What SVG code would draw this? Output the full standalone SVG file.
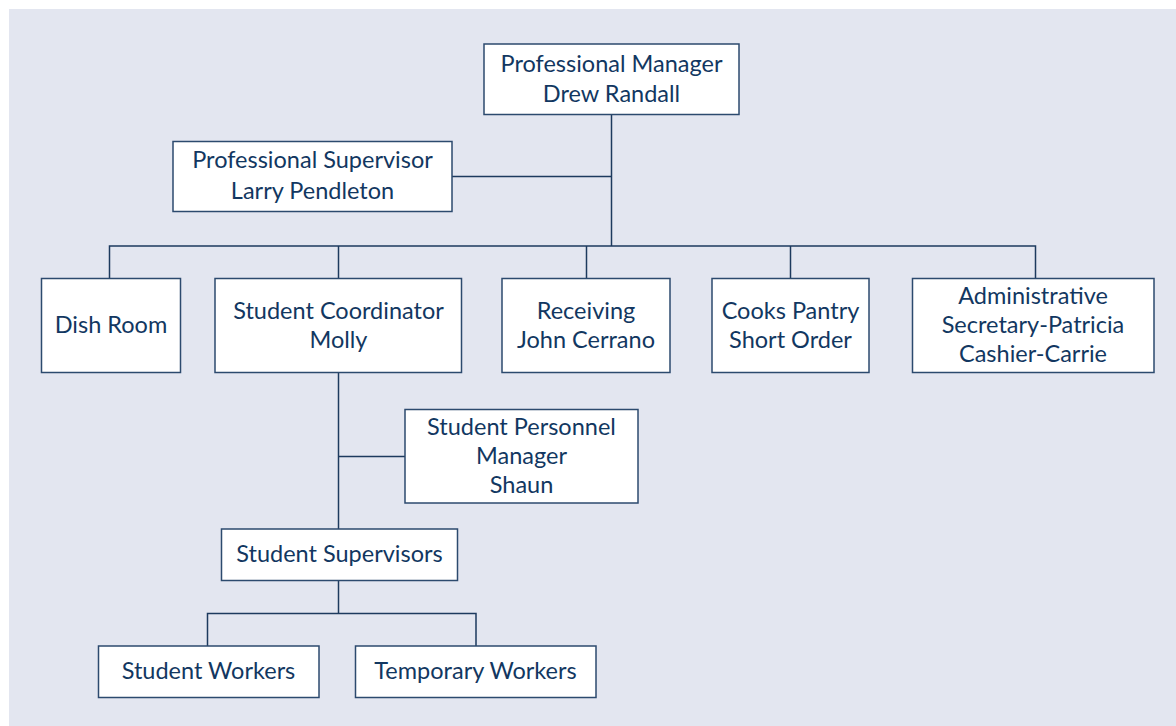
<svg xmlns="http://www.w3.org/2000/svg" width="1176" height="726" viewBox="0 0 1176 726">
<style>
.box{fill:#ffffff;stroke:#2c4a6e;stroke-width:1.5}
.t{font-family:Lato,"Open Sans",sans-serif;font-size:23.5px;fill:#123761;text-anchor:middle}
.c{stroke:#1d3a5e;stroke-width:1.5;fill:none}
</style>
<rect width="1176" height="726" fill="#ffffff"/>
<rect x="9" y="9" width="1167" height="717" fill="#e3e6f0"/>
<g id="connectors">
<path class="c" d="M611.5 114.5V246"/>
<path class="c" d="M452 176.5H611.5"/>
<path class="c" d="M109.5 278.5V246H1035.5V278.5"/>
<path class="c" d="M338.5 246V278.5"/>
<path class="c" d="M586.5 246V278.5"/>
<path class="c" d="M790.5 246V278.5"/>
<path class="c" d="M338.5 372.5V529"/>
<path class="c" d="M338.5 456.5H405"/>
<path class="c" d="M338.5 580.5V613.5"/>
<path class="c" d="M207.5 646V613.5H476V646"/>
</g>
<g id="n-manager"><rect class="box" x="484" y="44" width="255" height="70.5"/><text class="t" x="611.5" y="72">Professional Manager</text><text class="t" x="611.5" y="102">Drew Randall</text></g>
<g id="n-supervisor"><rect class="box" x="173" y="141.5" width="279" height="70"/><text class="t" x="312.5" y="168">Professional Supervisor</text><text class="t" x="312.5" y="198.5">Larry Pendleton</text></g>
<g id="n-dish"><rect class="box" x="41.5" y="278.5" width="139" height="94"/><text class="t" x="111" y="333">Dish Room</text></g>
<g id="n-coord"><rect class="box" x="215" y="278.5" width="246.5" height="94"/><text class="t" x="338.5" y="319">Student Coordinator</text><text class="t" x="338.5" y="348">Molly</text></g>
<g id="n-receiving"><rect class="box" x="502" y="278.5" width="168" height="94"/><text class="t" x="586" y="319">Receiving</text><text class="t" x="586" y="348">John Cerrano</text></g>
<g id="n-cooks"><rect class="box" x="712" y="278.5" width="157" height="94"/><text class="t" x="790.5" y="319">Cooks Pantry</text><text class="t" x="790.5" y="348">Short Order</text></g>
<g id="n-admin"><rect class="box" x="912.5" y="278.5" width="241.5" height="94"/><text class="t" x="1033" y="304">Administrative</text><text class="t" x="1033" y="333">Secretary-Patricia</text><text class="t" x="1033" y="362">Cashier-Carrie</text></g>
<g id="n-personnel"><rect class="box" x="405" y="409.5" width="233" height="93.5"/><text class="t" x="521.5" y="435">Student Personnel</text><text class="t" x="521.5" y="464">Manager</text><text class="t" x="521.5" y="493">Shaun</text></g>
<g id="n-studsup"><rect class="box" x="221.5" y="529" width="236" height="51.5"/><text class="t" x="339.5" y="562">Student Supervisors</text></g>
<g id="n-studwork"><rect class="box" x="98.5" y="646" width="220.5" height="51.5"/><text class="t" x="208.5" y="679">Student Workers</text></g>
<g id="n-tempwork"><rect class="box" x="355.5" y="646" width="240.5" height="51.5"/><text class="t" x="475.5" y="679">Temporary Workers</text></g>
</svg>
